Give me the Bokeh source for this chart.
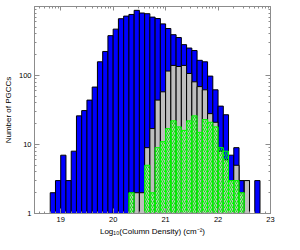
import math
from bokeh.plotting import figure
from bokeh.models import FixedTicker, LinearAxis, LogAxis
from bokeh.embed import file_html
from bokeh.resources import INLINE

BIN = 0.1

# Blue: all PGCCs
blue_left = [18.8, 18.9, 19.0, 19.1, 19.2, 19.3, 19.4, 19.5, 19.6, 19.7,
             19.8, 19.9, 20.0, 20.1, 20.2, 20.3, 20.4, 20.5, 20.6, 20.7,
             20.8, 20.9, 21.0, 21.1, 21.2, 21.3, 21.4, 21.5, 21.6, 21.7,
             21.8, 21.9, 22.0, 22.1, 22.2, 22.3, 22.4, 22.5, 22.6, 22.7]
blue_count = [2, 3, 7, 3, 8, 26, 31, 44, 68, 158,
              223, 378, 470, 665, 726, 767, 880, 805, 786, 702,
              669, 560, 480, 390, 355, 280, 250, 230, 166, 158,
              98, 62, 36, 27, 7, 9, 3, 3, 0, 3]

# Grey subsample
grey_left = [20.3, 20.4, 20.5, 20.6, 20.7, 20.8, 20.9, 21.0, 21.1, 21.2,
             21.3, 21.4, 21.5, 21.6, 21.7, 21.8, 21.9, 22.0, 22.1, 22.2,
             22.3, 22.4, 22.5]
grey_count = [2, 2, 2, 9, 17, 44, 58, 116, 140, 135,
              140, 107, 81, 69, 62, 28, 21, 8, 6, 3,
              5, 2, 3]

# Green hatched subsample
green_left = [20.3, 20.4, 20.5, 20.6, 20.7, 20.8, 20.9, 21.0, 21.1, 21.2,
              21.3, 21.4, 21.5, 21.6, 21.7, 21.8, 21.9, 22.0, 22.1, 22.2,
              22.3, 22.4]
green_count = [2, 0, 0, 5, 2, 9, 11, 17, 22, 18,
               16, 22, 26, 15, 23, 21, 18, 9, 8, 3,
               3, 2]

x_major = [19, 20, 21, 22, 23]
y_major = [1, 10, 100]
y_major_labels = {1: "1", 10: "10", 100: "100"}

FONT = "Liberation Sans"
FRAME = "#8c8c8c"


def nonzero(lefts, counts):
    L = [l for l, c in zip(lefts, counts) if c > 0]
    C = [c for c in counts if c > 0]
    return dict(left=L, right=[l + BIN for l in L], bottom=[1] * len(L), top=C)


p = figure(width=284, height=241, x_range=(18.5, 23), y_range=(1, 1000),
           y_axis_type="log", output_backend="svg", toolbar_location=None,
           min_border_left=27, min_border_right=14, min_border_top=6,
           min_border_bottom=28)
p.grid.visible = False
p.outline_line_color = FRAME
p.background_fill_color = "white"

b = nonzero(blue_left, blue_count)
p.quad(left=b["left"], right=b["right"], bottom=b["bottom"], top=b["top"],
       fill_color="#0000ff", line_color="black", line_width=1)
g = nonzero(grey_left, grey_count)
p.quad(left=g["left"], right=g["right"], bottom=g["bottom"], top=g["top"],
       fill_color="#bebebe", line_color="black", line_width=1)
gr = nonzero(green_left, green_count)
p.quad(left=gr["left"], right=gr["right"], bottom=gr["bottom"], top=gr["top"],
       fill_color=None, line_color="#00ff00", line_width=1,
       hatch_pattern="/", hatch_color="#00ff00", hatch_scale=4, hatch_weight=1)

x_minor_lin = [round(18.5 + 0.1 * i, 2) for i in range(46)]
x_minor_log = [n + math.log10(k) for n in range(18, 23) for k in range(2, 10)
               if 18.5 <= n + math.log10(k) <= 23]
y_minor = [k * 10 ** n for n in range(0, 3) for k in range(2, 10)]


def style(ax, show_labels):
    ax.axis_line_color = FRAME
    ax.major_tick_line_color = FRAME
    ax.minor_tick_line_color = FRAME
    ax.major_tick_in = 5
    ax.major_tick_out = 0
    ax.minor_tick_in = 2
    ax.minor_tick_out = 0
    ax.major_label_text_font = FONT
    ax.major_label_text_font_size = "7.5px"
    ax.major_label_text_color = "black" if show_labels else None
    ax.major_label_standoff = 3 if show_labels else 0
    ax.axis_label_text_font = FONT
    ax.axis_label_text_font_size = "8px"
    ax.axis_label_text_font_style = "normal"
    ax.axis_label_text_color = "black"


xa = p.xaxis[0]
xa.ticker = FixedTicker(ticks=x_major, minor_ticks=x_minor_lin)
style(xa, True)
xa.axis_label = "Log\u2081\u2080(Column Density) (cm\u207b\u00b2)"
xa.axis_label_standoff = 2

ya = p.yaxis[0]
ya.ticker = FixedTicker(ticks=y_major, minor_ticks=y_minor)
ya.major_label_overrides = y_major_labels
style(ya, True)
ya.axis_label = "Number of PGCCs"
ya.axis_label_standoff = 3

top = LinearAxis(ticker=FixedTicker(ticks=x_major, minor_ticks=x_minor_log))
style(top, False)
top.major_tick_in = 4
p.add_layout(top, "above")

right = LogAxis(ticker=FixedTicker(ticks=y_major, minor_ticks=y_minor))
style(right, False)
p.add_layout(right, "right")

open("out.html", "w").write(file_html(p, INLINE))
